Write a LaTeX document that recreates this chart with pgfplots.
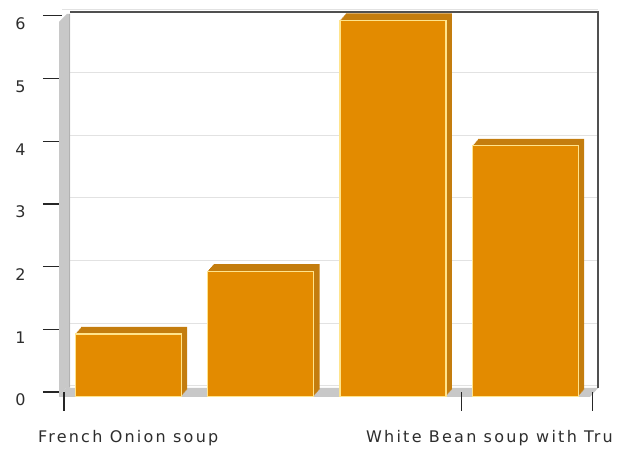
\documentclass[border=0pt]{standalone}
\usepackage{fontspec}
\setmainfont{DejaVu Sans}
\newfontfamily\labfont{DejaVu Sans}[LetterSpace=14]
\usepackage{pgfplots}
\pgfplotsset{compat=1.18}
\usepackage{pgfplotstable}
\definecolor{barfront}{RGB}{227,139,0}
\definecolor{bardepth}{RGB}{196,125,14}
\definecolor{baredge}{RGB}{255,228,140}
\definecolor{wallgray}{RGB}{200,200,200}
\definecolor{framegray}{RGB}{80,80,80}
\definecolor{gridgray}{RGB}{226,226,226}
\definecolor{txt}{RGB}{45,45,45}

\pgfplotstableread{
x y
0 1
1 2
2 6
3 4
}\soups

\begin{document}
\begin{tikzpicture}
\useasboundingbox (0pt,0pt) rectangle (624pt,449pt);
% floor (pixel (X,Y) -> (X,449-Y))
\fill[wallgray] (59pt,52pt) -- (590pt,52pt) -- (598pt,61pt) -- (66pt,61pt) -- cycle;
\begin{axis}[
  at={(62pt,57pt)}, anchor=south west,
  scale only axis, width=536pt, height=380pt,
  xmin=-0.5, xmax=3.55, ymin=0, ymax=6.06,
  axis line style={draw=none},
  tick align=outside,
  major tick length=19pt,
  ytick pos=left, xtick pos=bottom,
  xtick style={draw=black!85, line width=1.3pt},
  ytick style={draw=black!85, line width=1.3pt},
  ytick={0,1,2,3,4,5,6},
  yticklabel style={font=\fontsize{16}{19}\selectfont, text=txt, anchor=east, yshift=-8pt, xshift=-14pt},
  /pgf/number format/assume math mode=true,
  xtick={-0.485,2.52,3.51},
  xticklabels={,,},
  extra x ticks={0,2.73},
  extra x tick labels={French Onion soup, White Bean soup with Tru},
  extra x tick style={major tick length=0pt, xticklabel style={font=\labfont\fontsize{16}{19}\selectfont, text=txt, anchor=north, yshift=-35pt}},
  ymajorgrids,
  major grid style={draw=gridgray, line width=1pt, yshift=6pt},
  clip=false,
  ybar, bar width=106pt, bar shift=0pt,
]
\pgfplotsinvokeforeach{1,2,3,4,5,6,7}{
  \addplot[draw=none, fill=bardepth, bar shift={0.857*#1 pt}, yshift={-4.6pt + #1 pt}] table[x=x,y=y] {\soups};
}
\addplot[draw=baredge, line width=1.3pt, fill=barfront, bar shift=0pt, yshift=-4.6pt] table[x=x,y=y] {\soups};
\end{axis}
% wall
\fill[wallgray] (59pt,52pt) -- (59pt,427pt) -- (67pt,435pt) -- (70pt,435pt) -- (70pt,61pt) -- (66pt,61pt) -- cycle;
\draw[black!30, line width=0.6pt] (69.6pt,62pt) -- (69.6pt,435pt);
% frame top and right
\draw[framegray, line width=1.2pt] (70pt,437pt) -- (598pt,437pt) -- (598pt,61pt);
\end{tikzpicture}
\end{document}
